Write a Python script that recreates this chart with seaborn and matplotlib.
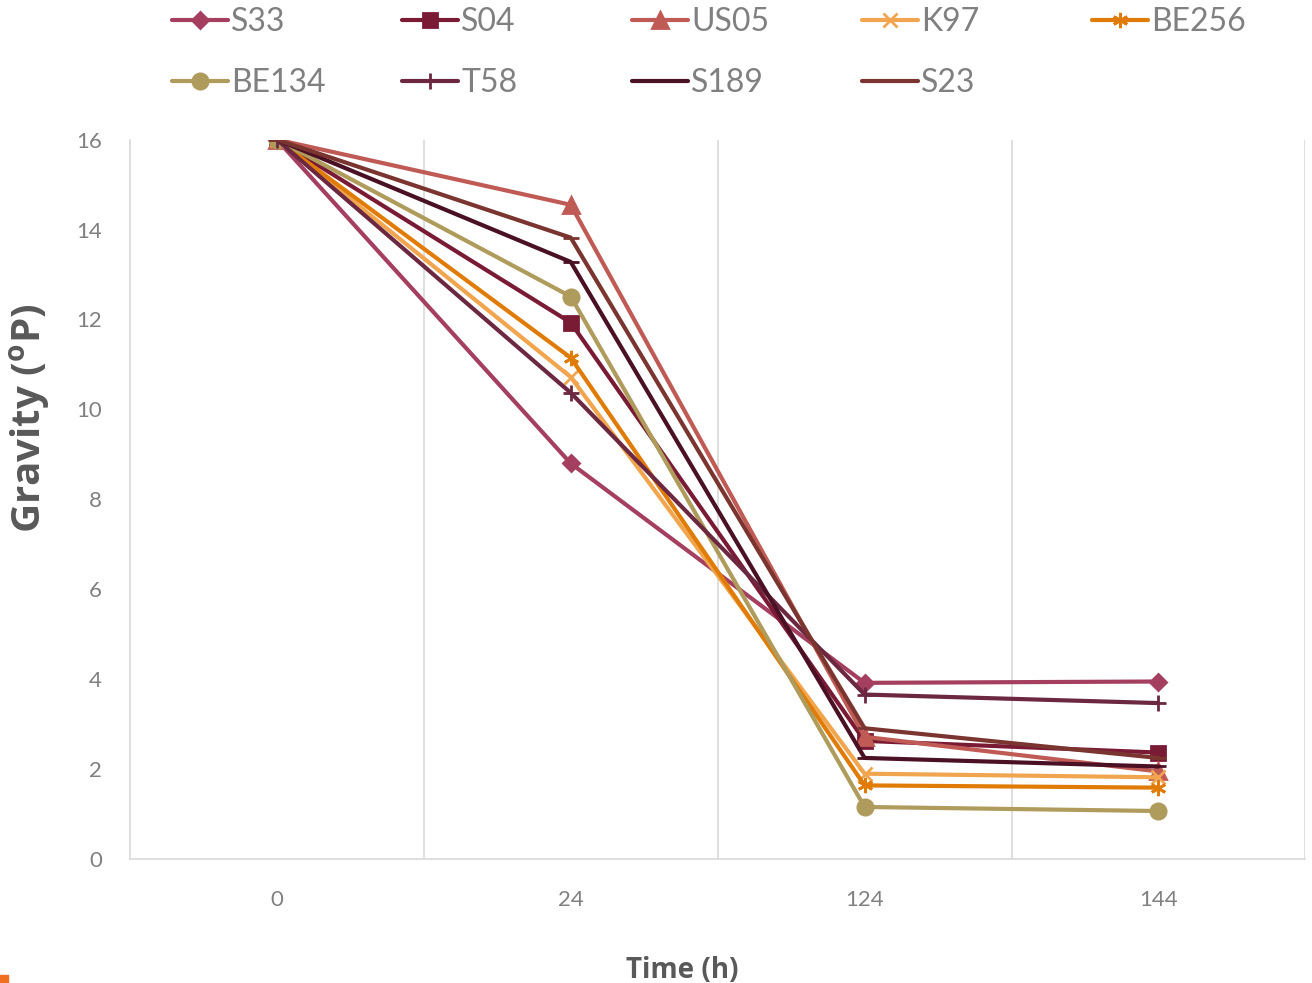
import matplotlib
matplotlib.use("Agg")
import matplotlib.pyplot as plt
import seaborn as sns
import pandas as pd
from matplotlib.lines import Line2D

sns.set_theme(style="white")
plt.rcParams['font.family'] = ['Lato', 'DejaVu Sans']
plt.rcParams['mathtext.fontset'] = 'custom'
plt.rcParams['mathtext.bf'] = 'Open Sans:bold'
plt.rcParams['mathtext.rm'] = 'Open Sans:bold'

times = ["0", "24", "124", "144"]
strains = ["S33", "S04", "US05", "K97", "BE256", "BE134", "T58", "S189", "S23"]

S33 = [16.0, 8.80, 3.92, 3.95]
S04 = [16.0, 11.93, 2.63, 2.37]
US05 = [16.0, 14.55, 2.72, 1.95]
K97 = [16.0, 10.72, 1.90, 1.82]
BE256 = [16.0, 11.15, 1.64, 1.59]
BE134 = [16.0, 12.51, 1.16, 1.07]
T58 = [16.0, 10.37, 3.66, 3.47]
S189 = [16.0, 13.28, 2.25, 2.06]
S23 = [16.0, 13.82, 2.91, 2.25]

values = {"S33": S33, "S04": S04, "US05": US05, "K97": K97, "BE256": BE256,
          "BE134": BE134, "T58": T58, "S189": S189, "S23": S23}

colors = {"S33": "#A53F5F", "S04": "#7A1B35", "US05": "#C05A55", "K97": "#F0A54E",
          "BE256": "#E07C05", "BE134": "#AF9B5B", "T58": "#6B2840", "S189": "#4A1024",
          "S23": "#7B3530"}
markers = {"S33": "D", "S04": "s", "US05": "^", "K97": "x", "BE256": (6, 2, 0),
           "BE134": "o", "T58": "+", "S189": "_", "S23": "_"}
msizes = {"S33": 8, "S04": 10, "US05": 11, "K97": 10, "BE256": 11, "BE134": 11,
          "T58": 11, "S189": 12, "S23": 12}

rows = []
for s in strains:
    for i, t in enumerate(times):
        rows.append({"strain": s, "pos": i, "time": t, "gravity": values[s][i]})
df = pd.DataFrame(rows)

fig = plt.figure(figsize=(13.12, 9.83), dpi=100)
ax = fig.add_axes([0.099, 0.126, 0.896, 0.732])

for s in strains:
    sub = df[df.strain == s]
    sns.lineplot(data=sub, x="pos", y="gravity", ax=ax, color=colors[s], linewidth=3,
                 marker=markers[s], markersize=msizes[s], markeredgecolor=colors[s],
                 markeredgewidth=2, sort=False, label=s, legend=False)

ax.set_xlim(-0.5, 3.5)
ax.set_ylim(0, 16)
ax.set_xticks(range(len(times)))
ax.set_xticklabels(times)
ax.set_yticks(range(0, 17, 2))
for b in [0.5, 1.5, 2.5, 3.5]:
    ax.axvline(b, color="#D9D9D9", linewidth=1.2, zorder=0)
for sp in ["top", "right"]:
    ax.spines[sp].set_visible(False)
for sp in ["left", "bottom"]:
    ax.spines[sp].set_color("#D9D9D9")
    ax.spines[sp].set_linewidth(1.2)
ax.tick_params(axis="both", length=0, labelcolor="#808080", labelsize=16)
ax.tick_params(axis="x", pad=22)
ax.tick_params(axis="y", pad=20)
ax.set_xlabel("Time (h)", fontsize=20, fontweight="bold", color="#595959",
              family="Open Sans")
ax.xaxis.set_label_coords(0.470, -0.135)
ax.set_ylabel(r"Gravity ($^{\mathbf{o}}$P)", fontsize=29, fontweight="bold",
              color="#595959", family="Open Sans")
ax.yaxis.set_label_coords(-0.066, 0.613)

# legend: one legend per column for even column spacing
columns = [["S33", "BE134"], ["S04", "T58"], ["US05", "S189"], ["K97", "S23"], ["BE256"]]
fig_w = 1312.0
for ci, col in enumerate(columns):
    hs = [Line2D([], [], color=colors[s], linewidth=3, marker=markers[s],
                 markersize=msizes[s], markeredgecolor=colors[s], markeredgewidth=2)
          for s in col]
    leg = fig.legend(hs, col, loc="upper left",
                     bbox_to_anchor=((172 + 230 * ci) / fig_w, 0.993),
                     frameon=False, fontsize=23, labelcolor="#808080",
                     handlelength=1.75, handletextpad=0.1, borderaxespad=0.0,
                     borderpad=0.0, labelspacing=0.98)

fig.patches.append(plt.Rectangle((0, 0), 0.006, 0.008, transform=fig.transFigure,
                                 color="#F07020", figure=fig))

fig.savefig("out.png", dpi=100)
